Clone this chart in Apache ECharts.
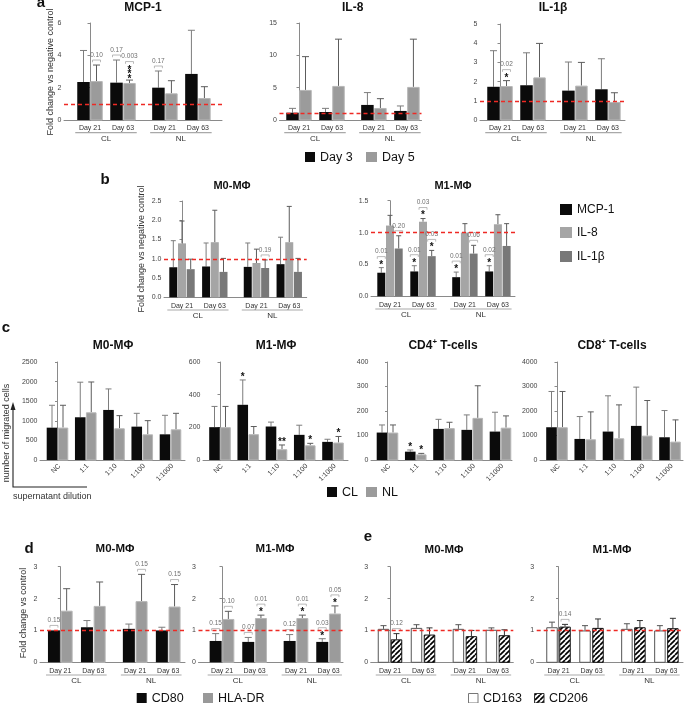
<!DOCTYPE html>
<html><head><meta charset="utf-8">
<script src="https://cdn.jsdelivr.net/npm/echarts@6/dist/echarts.min.js"></script>
<style>html,body{margin:0;padding:0;background:#fff;}#chart{width:685px;height:703px;}</style>
</head><body><div id="chart"></div>
<script>
// ================= DATA =================
const GROUP_DAYS = ['Day 21', 'Day 63', 'Day 21', 'Day 63'];
const GROUP_SUPER = ['CL', 'NL'];
const DILUTIONS = ['NC', '1:1', '1:10', '1:100', '1:1000'];

// value = bar height (mean); *_SD = top of error bar
// panel a
const MCP1_DAY3 = [2.35, 2.31, 2.00, 2.85];
const MCP1_DAY3_SD = [4.30, 3.71, 3.03, 5.55];
const MCP1_DAY5 = [2.41, 2.29, 1.65, 1.36];
const MCP1_DAY5_SD = [3.40, 2.47, 2.43, 2.06];
const MCP1_SIG = [[1, 0, '0.10', ''], [0, 1, '0.17', ''], [1, 1, '0.003', '***'], [0, 2, '0.17', '']];
const IL8_DAY3 = [1.13, 1.24, 2.33, 1.40];
const IL8_DAY3_SD = [1.80, 1.80, 4.24, 2.17];
const IL8_DAY5 = [4.65, 5.27, 1.86, 5.12];
const IL8_DAY5_SD = [9.80, 12.5, 3.30, 12.5];
const IL1B_DAY3 = [1.73, 1.81, 1.53, 1.60];
const IL1B_DAY3_SD = [3.61, 3.50, 3.02, 3.19];
const IL1B_DAY5 = [1.77, 2.22, 1.79, 0.94];
const IL1B_DAY5_SD = [2.05, 3.99, 3.00, 1.42];
const IL1B_SIG = [[1, 0, '0.02', '*']];

// panel b
const B_M0_MCP1 = [0.78, 0.80, 0.79, 0.86];
const B_M0_MCP1_SD = [1.47, 1.41, 1.41, 1.56];
const B_M0_IL8 = [1.40, 1.43, 0.89, 1.43];
const B_M0_IL8_SD = [1.98, 2.26, 1.25, 2.36];
const B_M0_IL1B = [0.73, 0.66, 0.76, 0.66];
const B_M0_IL1B_SD = [0.99, 1.01, 0.97, 1.01];
const B_M0_SIG = [[2, 2, '0.19', '']];
const B_M1_MCP1 = [0.37, 0.39, 0.30, 0.39];
const B_M1_MCP1_SD = [0.45, 0.48, 0.38, 0.48];
const B_M1_IL8 = [1.11, 1.17, 1.00, 1.13];
const B_M1_IL8_SD = [1.27, 1.22, 1.14, 1.28];
const B_M1_IL1B = [0.75, 0.63, 0.67, 0.79];
const B_M1_IL1B_SD = [0.95, 0.72, 0.80, 1.14];
const B_M1_SIG = [[0, 0, '0.01', '*'], [2, 0, '0.20', ''], [0, 1, '0.01', '*'], [1, 1, '0.03', '*'],
                  [2, 1, '0.03', '*'], [0, 2, '0.01', '*'], [2, 2, '0.06', ''], [0, 3, '0.02', '*']];

// panel c (number of migrated cells)
const C_M0_CL = [825, 1090, 1277, 851, 655];
const C_M0_CL_SD = [1396, 1985, 1813, 1191, 1140];
const C_M0_NL = [827, 1217, 809, 655, 783];
const C_M0_NL_SD = [1396, 1990, 1132, 1004, 1191];
const C_M1_CL = [201, 338, 205, 154, 111];
const C_M1_CL_SD = [328, 490, 232, 213, 127];
const C_M1_NL = [201, 158, 66, 90, 107];
const C_M1_NL_SD = [328, 205, 92, 102, 144];
const C_M1_SIG = [[0, 1, '', '*'], [1, 2, '', '**'], [1, 3, '', '*'], [1, 4, '', '*']];
const C_CD4_CL = [112, 34, 127, 123, 116];
const C_CD4_CL_SD = [143, 41, 166, 184, 195];
const C_CD4_NL = [112, 23, 130, 172, 132];
const C_CD4_NL_SD = [143, 27, 154, 303, 180];
const C_CD4_SIG = [[0, 1, '', '*'], [1, 1, '', '*']];
const C_CD8_CL = [1337, 860, 1160, 1392, 928];
const C_CD8_CL_SD = [2797, 1773, 2620, 2974, 2019];
const C_CD8_NL = [1337, 846, 887, 996, 750];
const C_CD8_NL_SD = [2797, 1964, 2250, 2428, 1637];

// panel d
const D_M0_CD80 = [0.99, 1.10, 1.05, 1.00];
const D_M0_CD80_SD = [1.00, 1.31, 1.20, 1.10];
const D_M0_HLA = [1.62, 1.77, 1.92, 1.75];
const D_M0_HLA_SD = [2.31, 2.52, 2.76, 2.44];
const D_M0_SIG = [[0, 0, '0.15', ''], [1, 2, '0.15', ''], [1, 3, '0.15', '']];
const D_M1_CD80 = [0.67, 0.64, 0.67, 0.64];
const D_M1_CD80_SD = [0.90, 0.78, 0.87, 0.74];
const D_M1_HLA = [1.36, 1.39, 1.39, 1.53];
const D_M1_HLA_SD = [1.60, 1.48, 1.48, 1.77];
const D_M1_SIG = [[0, 0, '0.15', ''], [1, 0, '0.10', ''], [0, 1, '0.07', ''], [1, 1, '0.01', '*'],
                  [0, 2, '0.12', ''], [1, 2, '0.01', '*'], [0, 3, '0.03', '*'], [1, 3, '0.05', '*']];

// panel e
const E_M0_CD163 = [1.05, 1.08, 1.05, 1.02];
const E_M0_CD163_SD = [1.15, 1.18, 1.18, 1.08];
const E_M0_CD206 = [0.72, 0.87, 0.82, 0.85];
const E_M0_CD206_SD = [0.90, 1.08, 1.00, 1.02];
const E_M0_SIG = [[1, 0, '0.12', '']];
const E_M1_CD163 = [1.10, 1.00, 1.05, 1.00];
const E_M1_CD163_SD = [1.26, 1.15, 1.21, 1.15];
const E_M1_CD206 = [1.12, 1.08, 1.10, 1.07];
const E_M1_CD206_SD = [1.19, 1.36, 1.31, 1.38];
const E_M1_SIG = [[1, 0, '0.14', '']];

// ================= STYLE / LAYOUT =================
const FONT = '"Liberation Sans", Arial, Helvetica, sans-serif';
const POS_G = [0, 1, 2.27, 3.27];
const POS_C = [0, 1, 2, 3, 4];

const hatchCanvas = (function () {
  const c = document.createElement('canvas'); c.width = c.height = 5;
  const g = c.getContext('2d'); g.fillStyle = '#fff'; g.fillRect(0, 0, 5, 5);
  g.strokeStyle = '#000'; g.lineWidth = 1.7;
  for (let k = -1; k <= 1; k++) { g.beginPath(); g.moveTo(k * 5, 5); g.lineTo(k * 5 + 5, 0); g.stroke(); }
  return c;
})();
const HATCH = { image: hatchCanvas, repeat: 'repeat' };

const ST_BLACK = { fill: '#0b0b0b', err: '#7d7d7d' };
const ST_GRAY = { fill: '#9b9b9b', stroke: '#b7b7b7', err: '#5c5c5c' };
const ST_IL8 = { fill: '#a5a5a5', err: '#5c5c5c' };
const ST_IL1B = { fill: '#787878', err: '#5c5c5c' };
const ST_WHITE = { fill: '#ffffff', stroke: '#555555', err: '#555555' };
const ST_HATCH = { fill: HATCH, stroke: '#111111', err: '#333333' };
function S(vals, sd, st) { return Object.assign({ vals: vals, sd: sd }, st); }

const GA = { top: 23, bottom: 120, pos: POS_G, unit: 33, barW: 12.5, gap: 0.5, cap: 7, ref: true, labels: 'group' };
const GB = { top: 201, bottom: 297.3, pos: POS_G, unit: 32.8, barW: 8, gap: 0.7, cap: 5, ref: true, labels: 'group', yFmt: v => v.toFixed(1) };
const GC = { top: 362, bottom: 460, pos: POS_C, unit: 28.25, barW: 10.6, gap: 0.4, cap: 6, ref: false, labels: 'dil' };
const GD = { top: 566.7, bottom: 662.3, pos: POS_G, unit: 33, barW: 12, gap: 0.7, cap: 7, ref: true, labels: 'group' };
const GE = { top: 566.7, bottom: 662.3, pos: POS_G, unit: 33, barW: 11.5, gap: 1.5, cap: 6, ref: true, labels: 'group' };

const panels = [
  Object.assign({}, GA, { left: 64, right: 222, x0: 90, yMax: 6, yInt: 2,
    series: [S(MCP1_DAY3, MCP1_DAY3_SD, ST_BLACK), S(MCP1_DAY5, MCP1_DAY5_SD, ST_GRAY)], sig: MCP1_SIG }),
  Object.assign({}, GA, { left: 279.5, right: 421.5, x0: 299, yMax: 15, yInt: 5,
    series: [S(IL8_DAY3, IL8_DAY3_SD, ST_BLACK), S(IL8_DAY5, IL8_DAY5_SD, ST_GRAY)] }),
  Object.assign({}, GA, { left: 480, right: 625, x0: 500, top: 24, yMax: 5, yInt: 1,
    series: [S(IL1B_DAY3, IL1B_DAY3_SD, ST_BLACK), S(IL1B_DAY5, IL1B_DAY5_SD, ST_GRAY)], sig: IL1B_SIG }),
  Object.assign({}, GB, { left: 164, right: 306.7, x0: 182, yMax: 2.5, yInt: 0.5,
    series: [S(B_M0_MCP1, B_M0_MCP1_SD, ST_BLACK), S(B_M0_IL8, B_M0_IL8_SD, ST_IL8), S(B_M0_IL1B, B_M0_IL1B_SD, ST_IL1B)], sig: B_M0_SIG }),
  Object.assign({}, GB, { left: 371, right: 515, x0: 390, top: 200.7, bottom: 296.3, unit: 33, yMax: 1.5, yInt: 0.5,
    series: [S(B_M1_MCP1, B_M1_MCP1_SD, ST_BLACK), S(B_M1_IL8, B_M1_IL8_SD, ST_IL8), S(B_M1_IL1B, B_M1_IL1B_SD, ST_IL1B)], sig: B_M1_SIG }),
  Object.assign({}, GC, { left: 40, right: 185, x0: 57.5, yMax: 2500, yInt: 500,
    series: [S(C_M0_CL, C_M0_CL_SD, ST_BLACK), S(C_M0_NL, C_M0_NL_SD, ST_GRAY)] }),
  Object.assign({}, GC, { left: 203, right: 348, x0: 220, yMax: 600, yInt: 200,
    series: [S(C_M1_CL, C_M1_CL_SD, ST_BLACK), S(C_M1_NL, C_M1_NL_SD, ST_GRAY)], sig: C_M1_SIG }),
  Object.assign({}, GC, { left: 371, right: 512, x0: 387.5, yMax: 400, yInt: 100,
    series: [S(C_CD4_CL, C_CD4_CL_SD, ST_BLACK), S(C_CD4_NL, C_CD4_NL_SD, ST_GRAY)], sig: C_CD4_SIG }),
  Object.assign({}, GC, { left: 540, right: 683, x0: 557, yMax: 4000, yInt: 1000,
    series: [S(C_CD8_CL, C_CD8_CL_SD, ST_BLACK), S(C_CD8_NL, C_CD8_NL_SD, ST_GRAY)] }),
  Object.assign({}, GD, { left: 40, right: 185, x0: 60.3, yMax: 3, yInt: 1,
    series: [S(D_M0_CD80, D_M0_CD80_SD, ST_BLACK), S(D_M0_HLA, D_M0_HLA_SD, ST_GRAY)], sig: D_M0_SIG }),
  Object.assign({}, GD, { left: 198.5, right: 343, x0: 222, unit: 32.6, yMax: 3, yInt: 1,
    series: [S(D_M1_CD80, D_M1_CD80_SD, ST_BLACK), S(D_M1_HLA, D_M1_HLA_SD, ST_GRAY)], sig: D_M1_SIG }),
  Object.assign({}, GE, { left: 370.7, right: 513.3, x0: 390, yMax: 3, yInt: 1,
    series: [S(E_M0_CD163, E_M0_CD163_SD, ST_WHITE), S(E_M0_CD206, E_M0_CD206_SD, ST_HATCH)], sig: E_M0_SIG }),
  Object.assign({}, GE, { left: 536.7, right: 683, x0: 558.5, yMax: 3, yInt: 1,
    series: [S(E_M1_CD163, E_M1_CD163_SD, ST_WHITE), S(E_M1_CD206, E_M1_CD206_SD, ST_HATCH)], sig: E_M1_SIG })
];

// ================= BUILD =================
const grids = [], xAxes = [], yAxes = [], series = [];
const AX = '#8a8a8a';

function txt(t, x, y, size, opts) {
  return { type: 'text', x: x, y: y, style: Object.assign({ text: t, fontSize: size, fontFamily: FONT, fill: '#333', align: 'center', verticalAlign: 'middle' }, opts || {}) };
}

function barRenderer(p) {
  const n = p.series.length, tot = n * p.barW + (n - 1) * p.gap;
  return function (params, api) {
    const x = api.value(0), g = api.value(1);
    const base = api.coord([x, 0]);
    const cxOf = si => base[0] - tot / 2 + si * (p.barW + p.gap) + p.barW / 2;
    const ch = [];
    p.series.forEach((s, si) => {
      const cx = cxOf(si);
      const yt = api.coord([x, s.vals[g]])[1];
      const ye = api.coord([x, s.sd[g]])[1];
      if (ye < yt - 0.3) {
        ch.push({ type: 'line', shape: { x1: cx, y1: yt, x2: cx, y2: ye }, style: { stroke: s.err, lineWidth: 1 } });
        ch.push({ type: 'line', shape: { x1: cx - p.cap / 2, y1: ye, x2: cx + p.cap / 2, y2: ye }, style: { stroke: s.err, lineWidth: 1 } });
      }
      if (s.stroke) {
        ch.push({ type: 'rect', shape: { x: cx - p.barW / 2 + 0.5, y: yt + 0.5, width: p.barW - 1, height: base[1] - yt - 0.5 },
          style: { fill: s.fill, stroke: s.stroke, lineWidth: 1 } });
      } else {
        ch.push({ type: 'rect', shape: { x: cx - p.barW / 2, y: yt, width: p.barW, height: base[1] - yt }, style: { fill: s.fill } });
      }
    });
    (p.sig || []).forEach(a => {
      if (a[1] !== g) return;
      const s = p.series[a[0]], cx = cxOf(a[0]);
      const et = api.coord([x, Math.max(s.sd[g], s.vals[g])])[1];
      const starStyle = { fontSize: 10, fontWeight: 'bold', fill: '#111' };
      let br, tx;
      if (a[3] === '***') {
        [3.5, 8, 12.5].forEach(d => ch.push(txt('*', cx, et - d + 2.2, 10, starStyle)));
        br = et - 18.5; tx = et - 23.5;
      } else if (a[3]) {
        ch.push(txt(a[3], cx, et - 5 + 2.2, 10, starStyle));
        br = et - 11; tx = et - 16;
      } else { br = et - 5; tx = et - 10; }
      if (a[2]) {
        ch.push({ type: 'polyline', shape: { points: [[cx - 4, br + 2.2], [cx - 4, br], [cx + 4, br], [cx + 4, br + 2.2]] },
          style: { stroke: '#a8a8a8', lineWidth: 0.8, fill: null } });
        ch.push(txt(a[2], cx, tx, 6.5, { fill: '#707070' }));
      }
    });
    return { type: 'group', children: ch };
  };
}

function labelRenderer(p) {
  const n = p.series.length, tot = n * p.barW + (n - 1) * p.gap;
  return function (params, api) {
    const ch = [];
    const y0 = api.coord([p.pos[0], 0])[1];
    if (p.labels === 'group') {
      p.pos.forEach((x, i) => ch.push(txt(GROUP_DAYS[i], api.coord([x, 0])[0], y0 + 8.3, 7)));
      GROUP_SUPER.forEach((name, k) => {
        const l = api.coord([p.pos[2 * k], 0])[0] - tot / 2 - 2;
        const r = api.coord([p.pos[2 * k + 1], 0])[0] + tot / 2 + 1;
        ch.push({ type: 'line', shape: { x1: l, y1: y0 + 12.7, x2: r, y2: y0 + 12.7 }, style: { stroke: '#a9a9a9', lineWidth: 1.2 } });
        ch.push(txt(name, (l + r) / 2, y0 + 18.6, 8));
      });
    } else {
      p.pos.forEach((x, i) => {
        const c = api.coord([x, 0])[0];
        ch.push({ type: 'text', x: c + 2, y: y0 + 5, rotation: Math.PI / 4,
          style: { text: DILUTIONS[i], fontSize: 7, fontFamily: FONT, fill: '#333', align: 'right', verticalAlign: 'middle' } });
      });
    }
    return { type: 'group', children: ch };
  };
}

panels.forEach((p, gi) => {
  grids.push({ left: p.left, top: p.top, width: p.right - p.left, height: p.bottom - p.top });
  xAxes.push({ gridIndex: gi, type: 'value', min: (p.left - p.x0) / p.unit, max: (p.right - p.x0) / p.unit,
    axisLine: { show: true, onZero: false, lineStyle: { color: AX, width: 1 } }, axisTick: { show: false },
    axisLabel: { show: false }, splitLine: { show: false } });
  yAxes.push({ gridIndex: gi, type: 'value', min: 0, max: p.yMax, interval: p.yInt,
    axisLine: { show: true, lineStyle: { color: AX, width: 1 } },
    axisTick: { show: true, length: 2.5, lineStyle: { color: AX } },
    axisLabel: { fontSize: 7, color: '#444', margin: 2.5, fontFamily: FONT, formatter: p.yFmt || (v => String(v)) },
    splitLine: { show: false } });
  const bars = { type: 'custom', xAxisIndex: gi, yAxisIndex: gi, silent: true,
    data: p.pos.map((x, i) => [x, i]), encode: { x: 0, y: 1 }, renderItem: barRenderer(p) };
  if (p.ref) {
    bars.markLine = { silent: true, symbol: ['none', 'none'], label: { show: false },
      lineStyle: { color: '#ee2a24', type: [4, 3], width: 1.3 }, data: [{ yAxis: 1 }] };
  }
  series.push(bars);
  series.push({ type: 'custom', xAxisIndex: gi, yAxisIndex: gi, silent: true,
    data: [[p.pos[0], 0]], encode: { x: 0, y: 1 }, renderItem: labelRenderer(p) });
});

// ----- graphics: titles, panel letters, axis titles, legends -----
const measureCtx = document.createElement('canvas').getContext('2d');
function measure(t, font) { measureCtx.font = font; return measureCtx.measureText(t).width; }
const G = [];
function gText(t, x, y, size, opts, rot) {
  const e = { type: 'text', x: x, y: y, silent: true,
    style: Object.assign({ text: t, fontSize: size, fontFamily: FONT, fill: '#111', align: 'center', verticalAlign: 'middle' }, opts || {}) };
  if (rot) e.rotation = rot;
  G.push(e);
}
function gRect(x, y, w, h, fill, stroke) {
  G.push({ type: 'rect', silent: true, shape: { x: x, y: y, width: w, height: h }, style: { fill: fill, stroke: stroke || null, lineWidth: stroke ? 1 : 0 } });
}
function supTitle(cx, y, a, s, b, size) {
  const f1 = 'bold ' + size + 'px ' + FONT, f2 = 'bold ' + (size * 0.65) + 'px ' + FONT;
  const w1 = measure(a, f1), w2 = measure(s, f2), w3 = measure(b, f1);
  const x0 = cx - (w1 + w2 + w3) / 2;
  gText(a, x0, y, size, { fontWeight: 'bold', align: 'left' });
  gText(s, x0 + w1, y - size * 0.33, size * 0.65, { fontWeight: 'bold', align: 'left' });
  gText(b, x0 + w1 + w2, y, size, { fontWeight: 'bold', align: 'left' });
}
const B = { fontWeight: 'bold' };
// panel letters
gText('a', 41, 3, 15, B); gText('b', 105, 180, 15, B); gText('c', 6, 328, 15, B);
gText('d', 29, 549, 15, B); gText('e', 368, 537, 15, B);
// titles
gText('MCP-1', 143, 8, 12, B); gText('IL-8', 352.7, 8, 12, B); gText('IL-1β', 553, 8, 12, B);
gText('M0-MΦ', 232, 186, 11, B); gText('M1-MΦ', 453, 186, 11, B);
gText('M0-MΦ', 113, 346, 12, B); gText('M1-MΦ', 276, 346, 12, B);
supTitle(443, 346, 'CD4', '+', ' T-cells', 12); supTitle(612, 346, 'CD8', '+', ' T-cells', 12);
gText('M0-MΦ', 115, 549, 11.5, B); gText('M1-MΦ', 275, 549, 11.5, B);
gText('M0-MΦ', 444, 550, 11.5, B); gText('M1-MΦ', 612, 550, 11.5, B);
// axis titles
gText('Fold change vs negative control', 51, 72, 9, { fill: '#333' }, Math.PI / 2);
gText('Fold change vs negative control', 142, 249, 9, { fill: '#333' }, Math.PI / 2);
gText('number of migrated cells', 7, 433, 9, { fill: '#333' }, Math.PI / 2);
gText('Fold change vs control', 24, 613, 9, { fill: '#333' }, Math.PI / 2);
gText('supernatant dilution', 13, 497, 9, { fill: '#333', align: 'left' });
G.push({ type: 'polyline', silent: true, shape: { points: [[13, 408], [13, 487], [87, 487]] }, style: { stroke: '#222', lineWidth: 1.1, fill: null } });
G.push({ type: 'polygon', silent: true, shape: { points: [[13, 402], [10.5, 410], [15.5, 410]] }, style: { fill: '#222' } });
// legends
const LF = { align: 'left', fill: '#111' };
gRect(305, 152, 10, 10, '#0b0b0b'); gText('Day 3', 320, 157.5, 12.5, LF);
gRect(366, 152, 11, 10, '#9b9b9b'); gText('Day 5', 382, 157.5, 12.5, LF);
gRect(560, 204, 12, 11, '#0b0b0b'); gText('MCP-1', 577, 210, 12, LF);
gRect(560, 227, 12, 11, '#a5a5a5'); gText('IL-8', 577, 233, 12, LF);
gRect(560, 251, 12, 11, '#787878'); gText('IL-1β', 577, 257, 12, LF);
gRect(327, 487, 10, 10, '#0b0b0b'); gText('CL', 342, 492.5, 12.5, LF);
gRect(366, 487, 11, 10, '#9b9b9b'); gText('NL', 382, 492.5, 12.5, LF);
gRect(136.7, 693, 10, 10, '#0b0b0b'); gText('CD80', 151.7, 698.5, 12.5, LF);
gRect(203, 693, 10, 10, '#999999'); gText('HLA-DR', 218, 698.5, 12.5, LF);
gRect(468.5, 693.5, 9.5, 9.5, '#ffffff', '#777'); gText('CD163', 483, 698.5, 12.5, LF);
gRect(534.5, 693.5, 9.5, 9.5, HATCH, '#333'); gText('CD206', 549, 698.5, 12.5, LF);

const chart = echarts.init(document.getElementById('chart'));
chart.setOption({
  animation: false,
  backgroundColor: '#ffffff',
  textStyle: { fontFamily: FONT },
  grid: grids, xAxis: xAxes, yAxis: yAxes, series: series,
  graphic: { elements: G }
});
</script></body></html>
